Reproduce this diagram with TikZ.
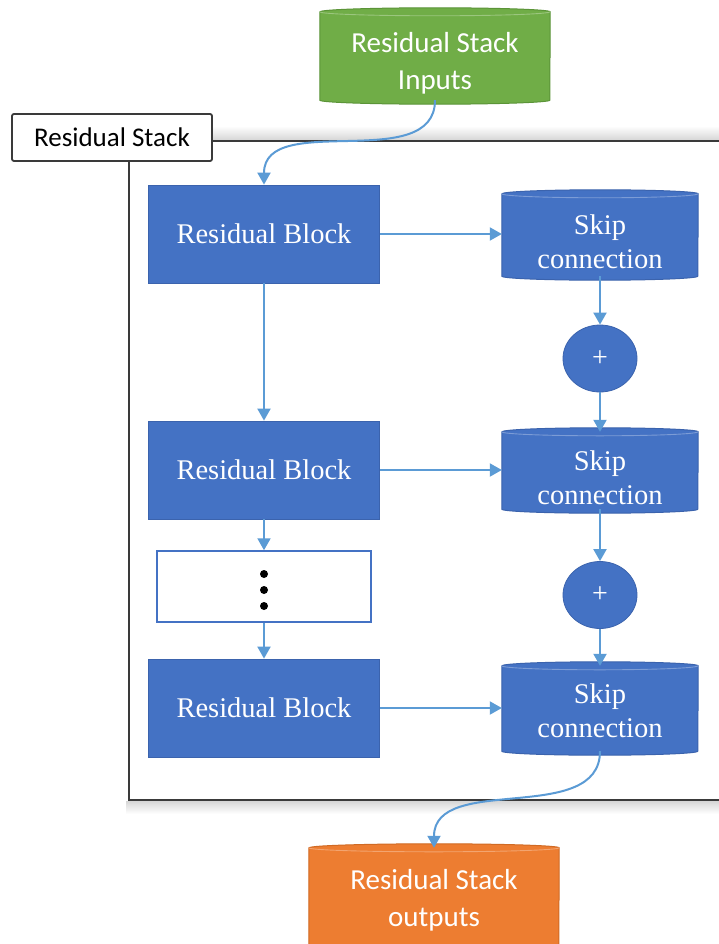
\documentclass[tikz,border=0pt]{standalone}
\usepackage{fontspec}
\setmainfont{Liberation Serif}
\newfontfamily\calib{Carlito}
\usetikzlibrary{arrows.meta,shapes.geometric,backgrounds}

\definecolor{blockblue}{HTML}{4472C4}
\definecolor{blockedge}{HTML}{3B63AD}
\definecolor{linkblue}{HTML}{5B9BD5}
\definecolor{ingreen}{HTML}{70AD47}
\definecolor{greenedge}{HTML}{5B9438}
\definecolor{outorange}{HTML}{ED7D31}
\definecolor{orangeedge}{HTML}{D06A24}
\definecolor{framegray}{HTML}{3A3A3A}

% drum (cylinder) body behind a named node: node, fill, edge colour, half width
\newcommand\drumbody[4]{%
  \path[fill=#2,draw=#3,line width=1pt]
    (#1.north west) -- (#1.south west)
    arc[start angle=180,end angle=360,x radius=#4,y radius=4pt]
    -- (#1.north east)
    arc[start angle=0,end angle=180,x radius=#4,y radius=4pt] -- cycle;
  \draw[#2!70!white,line width=0.9pt] (#1.north west)
    arc[start angle=180,end angle=360,x radius=#4,y radius=4pt];
}
% two centred lines, set #1 lower than the centre of the node
\newcommand\lowerlines[3]{%
  \raisebox{0pt}[\dimexpr\height+#1\relax][\dimexpr\depth-#1\relax]{%
    \begin{tabular}{@{}c@{}}#2\\#3\end{tabular}}}

\begin{document}
\begin{tikzpicture}[x=1pt,y=-1pt,
  blockbox/.style={rectangle,fill=blockblue,draw=blockedge,line width=0.8pt,
    text=white,minimum width=231pt,minimum height=98pt,inner sep=0pt,
    font=\fontsize{28.5}{34}\selectfont},
  drumnode/.style={rectangle,text=white,align=center,inner sep=0pt},
  skipnode/.style={drumnode,minimum width=196pt,
    font=\fontsize{28.5}{34}\selectfont},
  sumnode/.style={ellipse,fill=blockblue,draw=blockedge,line width=0.8pt,
    text=white,minimum width=74pt,minimum height=67pt,inner sep=0pt,
    font=\fontsize{28}{30}\selectfont},
  link/.style={draw=linkblue,line width=2pt,
    -{Triangle[length=12pt,width=13pt]}}
]
\useasboundingbox (0,0) rectangle (719,944);
\clip (0,0) rectangle (719,944);

% ---- nodes ----
\node[drumnode,minimum width=230pt,minimum height=88pt,
  font=\calib\fontsize{29}{37}\selectfont] (inp) at (435,56)
  {\lowerlines{8pt}{Residual Stack}{Inputs}};

\node[blockbox] (rb1) at (264,234) {Residual Block};
\node[blockbox] (rb2) at (264,470) {Residual Block};
\node[rectangle,fill=white,draw=blockblue,line width=1.5pt,
  minimum width=214pt,minimum height=71pt] (gap) at (264,586.5) {};
\node[blockbox] (rb3) at (264,708) {Residual Block};

\node[skipnode,minimum height=82pt] (sk1) at (600,235)
  {\lowerlines{10pt}{Skip}{connection}};
\node[sumnode] (add1) at (600,358.5) {+};
\node[skipnode,minimum height=77pt] (sk2) at (600,470.5)
  {\lowerlines{10pt}{Skip}{connection}};
\node[sumnode] (add2) at (600,595) {+};
\node[skipnode,minimum height=85pt] (sk3) at (600,708.5)
  {\lowerlines{5.5pt}{Skip}{connection}};

\node[drumnode,minimum width=250pt,minimum height=100pt,
  font=\calib\fontsize{29}{37}\selectfont] (outp) at (434,898)
  {\lowerlines{3pt}{Residual Stack}{outputs}};

% dots of the elided blocks
\foreach \yy in {574,590,606}
  \fill[black] (264,\yy) circle (4pt);

% ---- frame, shadows and drum bodies ----
\begin{scope}[on background layer]
  \fill[white] (0,0) rectangle (719,944);
  \shade[top color=white,bottom color=black!16] (212,126) rectangle (719,140);
  \shade[top color=black!16,bottom color=white] (126,801) rectangle (719,814);
  \draw[framegray,line width=1.8pt] (129,141) rectangle (740,800);
  \drumbody{inp}{ingreen}{greenedge}{115pt}
  \drumbody{sk1}{blockblue}{blockedge}{98pt}
  \drumbody{sk2}{blockblue}{blockedge}{98pt}
  \drumbody{sk3}{blockblue}{blockedge}{98pt}
  \drumbody{outp}{outorange}{orangeedge}{125pt}
\end{scope}

\node[rectangle,fill=white,draw=framegray,line width=1.8pt,rounded corners=2pt,
  minimum width=200pt,minimum height=47pt,inner sep=0pt,
  font=\calib\fontsize{27}{32}\selectfont] (stacklbl) at (112,137.5)
  {Residual Stack};

% ---- connectors ----
\draw[link] (inp.south) to[out=-90,in=90] (rb1.north);
\draw[link] (rb1.east) -- (rb1.east -| sk1.west);
\draw[link] (rb1.south) -- (rb2.north);
\draw[link] (sk1.south) -- (add1.north);
\draw[link] (add1.south) -- (sk2.north);
\draw[link] (rb2.east) -- (rb2.east -| sk2.west);
\draw[link] (rb2.south) -- (gap.north);
\draw[link] (gap.south) -- (rb3.north);
\draw[link] (sk2.south) -- (add2.north);
\draw[link] (add2.south) -- (sk3.north);
\draw[link] (rb3.east) -- (rb3.east -| sk3.west);
\draw[link] (sk3.south) to[out=-90,in=90] (outp.north);
\end{tikzpicture}
\end{document}
